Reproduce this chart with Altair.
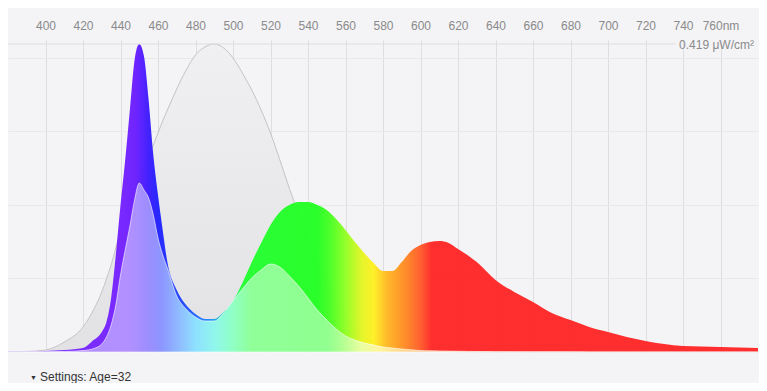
import altair as alt
import pandas as pd

# ---- data ----
wavelength = [380, 390, 400, 410, 420, 425, 430, 432.5, 435, 437.5, 440, 442.5, 445, 447.5, 450,
              452.5, 455, 457.5, 460, 462.5, 465, 470, 475, 480, 485, 490, 495, 500, 505, 510,
              515, 520, 525, 530, 535, 540, 545, 550, 555, 560, 565, 570, 575, 580, 585, 590,
              595, 600, 605, 610, 615, 620, 625, 630, 640, 650, 660, 670, 680, 690, 700, 710,
              720, 730, 740, 750, 760, 770, 780]

spd = [0.0004, 0.0005, 0.0014, 0.0027, 0.0054, 0.0150, 0.0272, 0.0408, 0.0735, 0.1320, 0.2000,
       0.2612, 0.3292, 0.3972, 0.4190, 0.4027, 0.3428, 0.2680, 0.2136, 0.1660, 0.1224, 0.0843,
       0.0639, 0.0517, 0.0449, 0.0449, 0.0544, 0.0694, 0.0939, 0.1224, 0.1483, 0.1728, 0.1905,
       0.2000, 0.2041, 0.2041, 0.2000, 0.1932, 0.1809, 0.1660, 0.1496, 0.1347, 0.1211, 0.1102,
       0.1102, 0.1224, 0.1374, 0.1456, 0.1496, 0.1510, 0.1483, 0.1401, 0.1320, 0.1224, 0.0980,
       0.0816, 0.0680, 0.0531, 0.0435, 0.0340, 0.0272, 0.0204, 0.0150, 0.0109, 0.0082, 0.0075,
       0.0068, 0.0061, 0.0054]

melanopic = [0.0003, 0.0007, 0.0027, 0.0136, 0.0340, 0.0544, 0.0816, 0.0993, 0.1184, 0.1415,
             0.1660, 0.1877, 0.2081, 0.2231, 0.2340, 0.2490, 0.2639, 0.2816, 0.2979, 0.3143,
             0.3292, 0.3578, 0.3836, 0.4040, 0.4149, 0.4190, 0.4136, 0.4000, 0.3796, 0.3564,
             0.3292, 0.2979, 0.2612, 0.2231, 0.1877, 0.1524, 0.1170, 0.0898, 0.0667, 0.0463,
             0.0313, 0.0204, 0.0136, 0.0082, 0.0054, 0.0034, 0.0020, 0.0014, 0.0010, 0.0008,
             0.0006, 0.0005, 0.0004, 0.0003, 0.0002, 0.0002, 0.0001, 0.0001, 0.0001, 0.0001,
             0.0001, 0.0001, 0.0001, 0.0001, 0.0001, 0.0001, 0.0001, 0.0001, 0.0001]

weighted = [0.0002, 0.0003, 0.0004, 0.0007, 0.0020, 0.0041, 0.0109, 0.0204, 0.0367, 0.0639,
            0.1048, 0.1388, 0.1714, 0.2068, 0.2299, 0.2204, 0.2095, 0.1864, 0.1551, 0.1320,
            0.1143, 0.0762, 0.0585, 0.0476, 0.0422, 0.0422, 0.0531, 0.0694, 0.0857, 0.1007,
            0.1116, 0.1197, 0.1156, 0.1034, 0.0898, 0.0735, 0.0571, 0.0435, 0.0313, 0.0218,
            0.0163, 0.0122, 0.0095, 0.0068, 0.0054, 0.0041, 0.0030, 0.0020, 0.0017, 0.0014,
            0.0012, 0.0010, 0.0008, 0.0007, 0.0005, 0.0004, 0.0003, 0.0003, 0.0002, 0.0001,
            0.0001, 0.0001, 0.0001, 0.0001, 0.0001, 0.0001, 0.0001, 0.0001, 0.0001]

tick_values = list(range(400, 761, 20))
y_grid_values = [0.1, 0.2, 0.3, 0.4]
peak_value = 0.419
peak_label = "0.419 μW/cm²"
settings_label = "Settings: Age=32"

WL_MIN, WL_MAX = 380, 780

# spectral colour stops (wavelength, colour)
main_stops = [(380, "#7b2cff"), (440, "#7421ff"), (448, "#6a1cff"), (455, "#3a1aff"),
              (460, "#2020ff"), (475, "#1f4cff"), (488, "#1a8cff"), (497, "#20e890"),
              (505, "#22ff30"), (545, "#22ff22"), (552, "#48ff22"), (560, "#90ff22"),
              (569, "#e6f522"), (575, "#fff022"), (582, "#ffb822"), (592, "#ff8822"),
              (600, "#ff5a28"), (606, "#ff2626"), (780, "#ff2626")]
pastel_stops = [(380, "#b38cff"), (445, "#b290ff"), (455, "#9c8eff"), (462, "#8c96ff"),
                (470, "#90b6ff"), (480, "#8ee0ff"), (490, "#90f6ec"), (500, "#90ffc4"),
                (510, "#90ff98"), (550, "#90ff90"), (558, "#b0ff92"), (568, "#e8ffa0"),
                (578, "#fff4a0"), (590, "#ffd890"), (605, "#ffc090"), (780, "#ffb0a0")]


def spectral_gradient(stops):
    return alt.Gradient(
        gradient="linear",
        stops=[alt.GradientStop(color=c, offset=(w - WL_MIN) / (WL_MAX - WL_MIN)) for w, c in stops],
        x1=0, x2=1, y1=0, y2=0,
    )


df = pd.DataFrame({"wl": wavelength, "spd": spd, "mel": melanopic, "w": weighted})

GRID = "#dedee2"
x_axis = alt.Axis(orient="top", values=tick_values, title=None,
                  labelExpr="datum.value == 760 ? '760nm' : datum.label",
                  grid=True, gridColor=GRID, domain=False, tickColor=GRID, tickSize=4,
                  labelColor="#8a8a8a", labelFontSize=12, labelPadding=8)
x_scale = alt.Scale(domain=[WL_MIN, WL_MAX], nice=False, zero=False)
y_axis = alt.Axis(values=y_grid_values, title=None, labels=False, ticks=False, domain=False,
                  grid=True, gridColor="#e8e8ec")
y_scale = alt.Scale(domain=[0, peak_value], nice=False)


def X(field):
    return alt.X(field, type="quantitative", scale=x_scale, axis=x_axis)


def Y(field):
    return alt.Y(field, type="quantitative", scale=y_scale, axis=y_axis)


base = alt.Chart(df)

gray_area = base.mark_area(
    interpolate="monotone",
    fill=alt.Gradient(gradient="linear",
                      stops=[alt.GradientStop(color="#f0f0f3", offset=0),
                             alt.GradientStop(color="#e2e2e5", offset=1)],
                      x1=0, x2=0, y1=0, y2=1),
).encode(x=X("wl"), y=Y("mel"))

gray_line = base.mark_line(interpolate="monotone", color="#c4c4c8", strokeWidth=1).encode(
    x=X("wl"), y=Y("mel"))

main_area = base.mark_area(interpolate="monotone", fill=spectral_gradient(main_stops),
                           opacity=0.96).encode(x=X("wl"), y=Y("spd"))

pastel_area = base.mark_area(interpolate="monotone", fill=spectral_gradient(pastel_stops),
                             stroke="#ffffff", strokeWidth=0.8, strokeOpacity=0.75).encode(
    x=X("wl"), y=Y("w"))

top_rule = alt.Chart(pd.DataFrame({"a": [WL_MIN], "b": [736], "v": [peak_value]})).mark_rule(
    color="#dcdce0", strokeWidth=1).encode(x=X("a"), x2="b:Q", y=Y("v"))

peak_text = alt.Chart(pd.DataFrame({"t": [peak_label]})).mark_text(
    align="right", baseline="middle", fontSize=12, color="#8a8a8a").encode(
    text="t:N", x=alt.value(746), y=alt.value(1))

tri_text = alt.Chart(pd.DataFrame({"t": ["▼"]})).mark_text(
    align="left", baseline="middle", fontSize=7, color="#333333").encode(
    text="t:N", x=alt.value(22), y=alt.value(333.5))

settings_text = alt.Chart(pd.DataFrame({"t": [settings_label]})).mark_text(
    align="left", baseline="middle", fontSize=12, color="#333333").encode(
    text="t:N", x=alt.value(32), y=alt.value(333))

chart = alt.layer(gray_area, gray_line, main_area, pastel_area, top_rule, peak_text,
                  tri_text, settings_text).properties(
    width=750, height=308,
    autosize=alt.AutoSizeParams(type="none"),
    padding={"left": 0, "top": 36, "right": 1, "bottom": 31},
    background="#f4f4f7",
).configure(font="Liberation Sans").configure_view(stroke=None)

chart.save("out.html", embed_options={"renderer": "svg", "actions": False})
